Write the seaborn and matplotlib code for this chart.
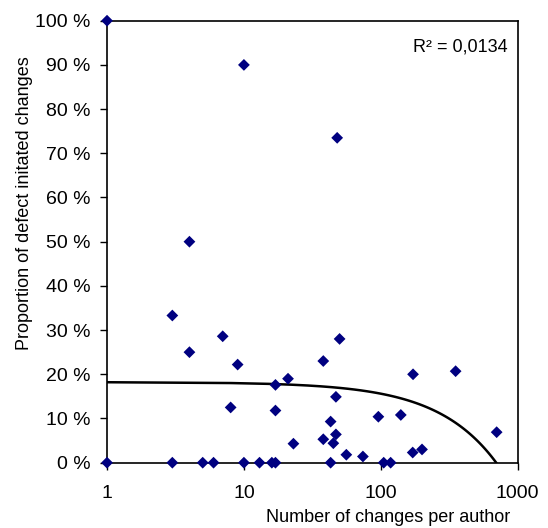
import numpy as np
import pandas as pd
import matplotlib
matplotlib.use("Agg")
import matplotlib.pyplot as plt
import seaborn as sns
from matplotlib.ticker import FuncFormatter, FixedLocator, NullLocator

# Changes per author and share of defect initiated changes (%)
changes = [1, 10, 48, 4, 3, 7, 50, 4, 38, 9, 352, 172, 21, 17, 47, 8, 17,
           140, 96, 43, 702, 47, 38, 45, 23, 200, 171, 56, 74,
           1, 3, 5, 6, 10, 13, 16, 17, 43, 105, 118]
defect_pct = [100, 90, 73.5, 50, 33.3, 28.6, 28, 25, 23, 22.2, 20.7, 20, 19, 17.6, 14.9, 12.5, 11.8,
              10.8, 10.4, 9.3, 6.9, 6.4, 5.3, 4.4, 4.3, 3.0, 2.3, 1.8, 1.4,
              0, 0, 0, 0, 0, 0, 0, 0, 0, 0, 0]
r2_label = "R² = 0,0134"
y_ticks = [0, 10, 20, 30, 40, 50, 60, 70, 80, 90, 100]
x_ticks = [1, 10, 100, 1000]

df = pd.DataFrame({"changes": changes, "defect": defect_pct})

sns.set_style("white")
plt.rcParams["font.family"] = ["Liberation Sans", "DejaVu Sans"]
plt.rcParams["text.color"] = "black"
plt.rcParams["axes.labelcolor"] = "black"
plt.rcParams["xtick.color"] = "black"
plt.rcParams["ytick.color"] = "black"

fig = plt.figure(figsize=(5.48, 5.28), dpi=100)
ax = fig.add_axes([0.1953, 0.1237, 0.7494, 0.8371])
ax.set_xscale("log")

# linear trend line (Excel style), drawn on the log axis
sns.regplot(data=df, x="changes", y="defect", ax=ax, scatter=False, ci=None,
            color="black", line_kws={"linewidth": 1.8}, truncate=True)
sns.scatterplot(data=df, x="changes", y="defect", ax=ax, marker="D", s=36,
                color="#000080", edgecolor="none", zorder=5, clip_on=False)

ax.set_xlim(1, 1000)
ax.set_ylim(0, 100)
ax.xaxis.set_major_locator(FixedLocator(x_ticks))
ax.xaxis.set_minor_locator(NullLocator())
ax.xaxis.set_major_formatter(FuncFormatter(lambda v, p: f"{v:g}"))
ax.yaxis.set_major_locator(FixedLocator(y_ticks))
ax.yaxis.set_major_formatter(FuncFormatter(lambda v, p: f"{v:.0f} %"))
ax.tick_params(axis="both", which="major", direction="out", length=5, width=1,
               color="black", labelcolor="black", labelsize=14, left=True, bottom=True)
ax.tick_params(axis="x", pad=11)
ax.tick_params(axis="y", pad=7)

for sp in ax.spines.values():
    sp.set_color("black")
    sp.set_linewidth(1.2)

ax.set_ylabel("Proportion of defect initated changes", fontsize=13, color="black")
ax.set_xlabel("Number of changes per author", fontsize=13, color="black")
ax.yaxis.set_label_coords(-0.2005, 0.5875)
ax.yaxis.label.set_verticalalignment("center")
ax.xaxis.set_label_coords(0.684, -0.125)
ax.xaxis.label.set_verticalalignment("center")

ax.text(0.976, 0.941, r2_label, transform=ax.transAxes, ha="right", va="center",
        fontsize=13, color="black")

fig.savefig("out.png", dpi=100)
